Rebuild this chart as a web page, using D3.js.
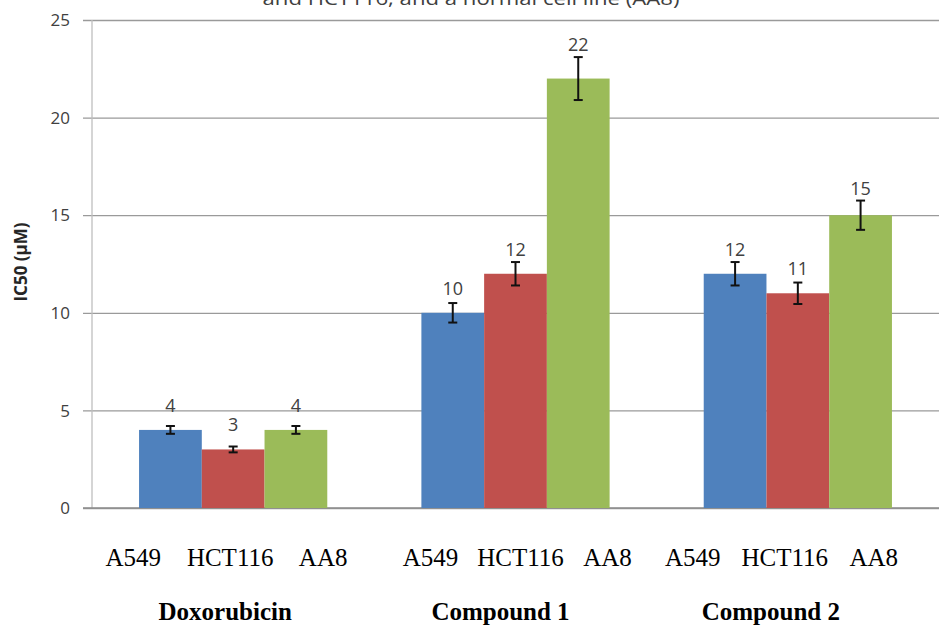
<!DOCTYPE html>
<html>
<head>
<meta charset="utf-8">
<script src="https://cdn.jsdelivr.net/npm/d3@7/dist/d3.min.js"></script>
<style>
  html, body { margin: 0; padding: 0; background: #fff; }
  svg { display: block; }
</style>
</head>
<body>
<svg id="chart" width="939" height="627"></svg>
<script>
// ---- data ----
const groups = ["Doxorubicin", "Compound 1", "Compound 2"];
const cellLines = ["A549", "HCT116", "AA8"];
const valuesA549   = [4, 10, 12];
const valuesHCT116 = [3, 12, 11];
const valuesAA8    = [4, 22, 15];
const errA549   = [0.2, 0.5, 0.6];
const errHCT116 = [0.15, 0.6, 0.55];
const errAA8    = [0.2, 1.1, 0.75];
const yTicks = [0, 5, 10, 15, 20, 25];
const titleText = "and HCT116, and a normal cell line (AA8)";
const yTitle = "IC50 (\u00B5M)";

(function () {
const seriesValues = [valuesA549, valuesHCT116, valuesAA8];
const seriesErrors = [errA549, errHCT116, errAA8];
const colors = ["#4F81BD", "#C0504D", "#9BBB59"];

// ---- layout ----
const svg = d3.select("#chart");
const pLeft = 92, pRight = 939, pTop = 20, pBottom = 508;

const x0 = d3.scaleBand().domain(groups).range([pLeft, pRight])
  .paddingInner(1/3).paddingOuter(1/6);
const x1 = d3.scaleBand().domain(cellLines).range([0, x0.bandwidth()]);
const y = d3.scaleLinear().domain([0, 25]).range([pBottom, pTop]);

// title (partially cut off at top, as in the reference)
svg.append("text")
  .attr("x", 471).attr("y", 5)
  .attr("text-anchor", "middle")
  .attr("font-family", "Open Sans, sans-serif")
  .attr("font-size", 18)
  .attr("fill", "#404040")
  .attr("textLength", 417)
  .attr("lengthAdjust", "spacingAndGlyphs")
  .text(titleText);

// gridlines
const yAxis = d3.axisLeft(y).tickValues(yTicks).tickSize(-(pRight - pLeft)).tickFormat("");
const gGrid = svg.append("g").attr("transform", `translate(${pLeft},0)`).call(yAxis);
gGrid.select(".domain").remove();
gGrid.selectAll(".tick line").attr("stroke", "#9a9a9a").attr("stroke-width", 1.3)
  .attr("x1", -9);

// left axis line
svg.append("line")
  .attr("x1", pLeft).attr("x2", pLeft)
  .attr("y1", y(25)).attr("y2", y(0))
  .attr("stroke", "#bfbfbf").attr("stroke-width", 1.3);
// zero line
svg.append("line")
  .attr("x1", pLeft - 9).attr("x2", pRight)
  .attr("y1", y(0)).attr("y2", y(0))
  .attr("stroke", "#8c8c8c").attr("stroke-width", 1.5);

// y tick labels
svg.append("g").selectAll("text").data(yTicks).join("text")
  .attr("x", 70).attr("y", d => y(d))
  .attr("dy", "0.36em")
  .attr("text-anchor", "end")
  .attr("font-family", "Open Sans, sans-serif")
  .attr("font-size", 17)
  .attr("fill", "#404040")
  .text(d => d);

// y title
svg.append("text")
  .attr("transform", "translate(27,262) rotate(-90)")
  .attr("text-anchor", "middle")
  .attr("font-family", "Open Sans, sans-serif")
  .attr("font-weight", "bold")
  .attr("font-size", 17)
  .attr("fill", "#262626")
  .text(yTitle);

// bars
const bars = [];
groups.forEach((g, gi) => {
  cellLines.forEach((c, si) => {
    bars.push({ g, c, si, v: seriesValues[si][gi], e: seriesErrors[si][gi] });
  });
});

svg.append("g").selectAll("rect").data(bars).join("rect")
  .attr("x", d => x0(d.g) + x1(d.c))
  .attr("width", x1.bandwidth())
  .attr("y", d => y(d.v))
  .attr("height", d => y(0) - y(d.v))
  .attr("fill", d => colors[d.si]);

// error bars
const gErr = svg.append("g").attr("stroke", "#111").attr("stroke-width", 2);
bars.forEach(d => {
  const cx = x0(d.g) + x1(d.c) + x1.bandwidth() / 2;
  gErr.append("line").attr("x1", cx).attr("x2", cx)
    .attr("y1", y(d.v + d.e)).attr("y2", y(d.v - d.e));
  [d.v + d.e, d.v - d.e].forEach(v => {
    gErr.append("line").attr("x1", cx - 4.5).attr("x2", cx + 4.5)
      .attr("y1", y(v)).attr("y2", y(v));
  });
});

// data labels
svg.append("g").selectAll("text").data(bars).join("text")
  .attr("x", d => x0(d.g) + x1(d.c) + x1.bandwidth() / 2)
  .attr("y", d => Math.min(y(d.v) - 18, y(d.v + d.e) - 6))
  .attr("text-anchor", "middle")
  .attr("font-family", "Open Sans, sans-serif")
  .attr("font-size", 18)
  .attr("fill", "#404040")
  .text(d => d.v);

// category labels (serif, placed as in reference)
const lineOffsets = [[-100, -3, 90], [-85, 5, 92], [-105, -13, 76]];
const groupOffsets = [-8, -15, -27];
groups.forEach((g, gi) => {
  const cx = x0(g) + x0.bandwidth() / 2;
  cellLines.forEach((c, si) => {
    svg.append("text")
      .attr("x", cx + lineOffsets[gi][si]).attr("y", 566)
      .attr("text-anchor", "middle")
      .attr("font-family", "Liberation Serif, Times New Roman, serif")
      .attr("font-size", 25)
      .attr("fill", "#000")
      .text(c);
  });
  svg.append("text")
    .attr("x", cx + groupOffsets[gi]).attr("y", 620)
    .attr("text-anchor", "middle")
    .attr("font-family", "Liberation Serif, Times New Roman, serif")
    .attr("font-weight", "bold")
    .attr("font-size", 25)
    .attr("fill", "#000")
    .text(g);
});
})();
</script>
</body>
</html>
